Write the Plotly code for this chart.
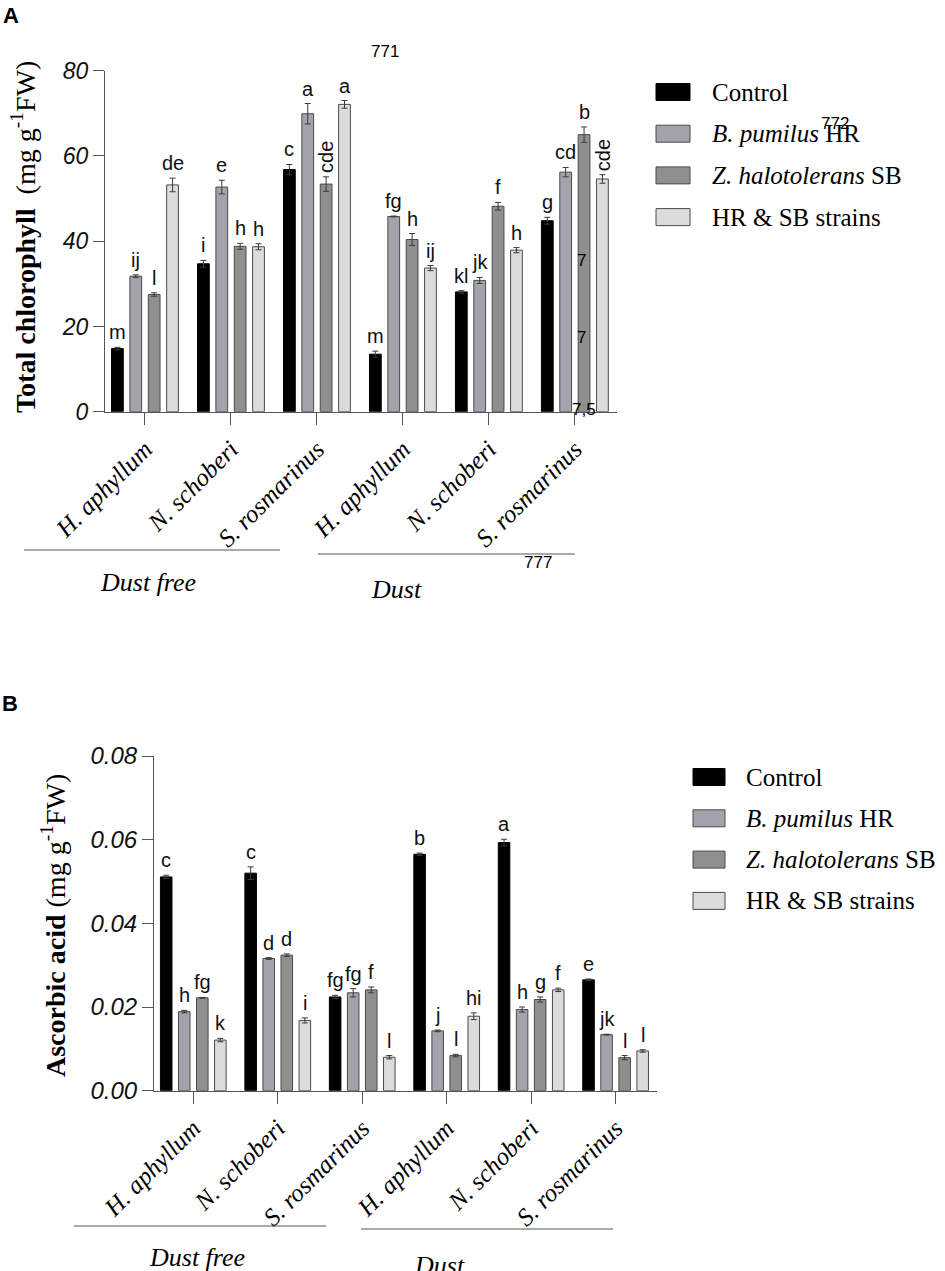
import plotly.graph_objects as go

W, H = 945, 1271

def px(x):
    return x / W

def py(y):
    return 1 - y / H

# ---------------- data ----------------
species = ["H. aphyllum", "N. schoberi", "S. rosmarinus",
           "H. aphyllum", "N. schoberi", "S. rosmarinus"]
condition_labels = ["Dust free", "Dust"]
series_names = ["Control", "<i>B. pumilus</i> HR",
                "<i>Z. halotolerans</i> SB", "HR & SB strains"]

# Panel A: total chlorophyll (mg g-1 FW)
chl_control = [14.8, 34.7, 56.8, 13.5, 28.1, 44.8]
chl_bpum = [31.8, 52.7, 69.9, 45.8, 30.8, 56.2]
chl_zhalo = [27.5, 38.8, 53.4, 40.4, 48.2, 65.0]
chl_both = [53.2, 38.7, 72.1, 33.7, 37.9, 54.6]

chl_err_control = [0.3, 0.8, 1.2, 0.7, 0.3, 0.8]
chl_err_bpum = [0.3, 1.6, 2.4, 0.1, 0.7, 1.1]
chl_err_zhalo = [0.4, 0.7, 1.7, 1.4, 0.9, 1.8]
chl_err_both = [1.6, 0.7, 0.9, 0.6, 0.6, 1.0]

chl_let_control = ["m", "i", "c", "m", "kl", "g"]
chl_let_bpum = ["ij", "e", "a", "fg", "jk", "cd"]
chl_let_zhalo = ["l", "h", "cde", "h", "f", "b"]
chl_let_both = ["de", "h", "a", "ij", "h", "cde"]

# Panel B: ascorbic acid (mg g-1 FW)
asc_control = [0.0511, 0.0520, 0.0224, 0.0565, 0.0593, 0.0265]
asc_bpum = [0.0189, 0.0316, 0.0234, 0.0143, 0.0194, 0.0134]
asc_zhalo = [0.0222, 0.0324, 0.0241, 0.0084, 0.0218, 0.0079]
asc_both = [0.0121, 0.0168, 0.0080, 0.0178, 0.0241, 0.0095]

asc_err_control = [0.0004, 0.0015, 0.0004, 0.0003, 0.0008, 0.0002]
asc_err_bpum = [0.0003, 0.0002, 0.0010, 0.0002, 0.0006, 0.0001]
asc_err_zhalo = [0.0001, 0.0003, 0.0007, 0.0003, 0.0006, 0.0005]
asc_err_both = [0.0004, 0.0006, 0.0004, 0.0008, 0.0004, 0.0003]

asc_let_control = ["c", "c", "fg", "b", "a", "e"]
asc_let_bpum = ["h", "d", "fg", "j", "h", "jk"]
asc_let_zhalo = ["fg", "d", "f", "l", "g", "l"]
asc_let_both = ["k", "i", "l", "hi", "f", "l"]

chl_ticks = [0, 20, 40, 60, 80]
asc_ticks = [0.0, 0.02, 0.04, 0.06, 0.08]

# ---------------- styles ----------------
fills = ["#000000", "#a3a3ab", "#8f8f8f", "#dcdcdc"]
edges = ["#000000", "#4a4a4a", "#4a4a4a", "#4a4a4a"]
SERIF = "Liberation Serif"
SANS = "Liberation Sans"
BARGAP = 0.145
GROUPGAP = 0.36
LETTER_FONT = dict(family=SANS, size=20, color="#111111")

fig = go.Figure()

panels = [
    dict(xa="x", ya="y",
         vals=[chl_control, chl_bpum, chl_zhalo, chl_both],
         errs=[chl_err_control, chl_err_bpum, chl_err_zhalo, chl_err_both],
         lets=[chl_let_control, chl_let_bpum, chl_let_zhalo, chl_let_both]),
    dict(xa="x2", ya="y2",
         vals=[asc_control, asc_bpum, asc_zhalo, asc_both],
         errs=[asc_err_control, asc_err_bpum, asc_err_zhalo, asc_err_both],
         lets=[asc_let_control, asc_let_bpum, asc_let_zhalo, asc_let_both]),
]

xpos = list(range(len(species)))
annotations = []
slot = (1 - BARGAP) / 4

for p in panels:
    for j, name in enumerate(series_names):
        fig.add_trace(go.Bar(
            x=xpos, y=p["vals"][j], name=name, showlegend=False,
            xaxis=p["xa"], yaxis=p["ya"],
            marker=dict(color=fills[j], line=dict(color=edges[j], width=1)),
            error_y=dict(type="data", array=p["errs"][j], visible=True,
                         color="#3a3a3a", thickness=1, width=3),
            hoverinfo="skip",
        ))
        off = -(1 - BARGAP) / 2 + slot * (j + 0.5)
        for i, lab in enumerate(p["lets"][j]):
            top = p["vals"][j][i] + p["errs"][j][i]
            # long letter groups are written vertically in the figure
            ang = -90 if len(lab) >= 3 else 0
            annotations.append(dict(
                x=xpos[i] + off, y=top, xref=p["xa"], yref=p["ya"],
                text=lab, showarrow=False, xanchor="center", yanchor="bottom",
                yshift=2, textangle=ang, font=LETTER_FONT))

def paper_text(text, x, y, size, family, **kw):
    d = dict(x=px(x), y=py(y), xref="paper", yref="paper", showarrow=False,
             text=text, xanchor="center", yanchor="middle",
             font=dict(family=family, size=size, color="#000"))
    d.update(kw)
    return d

# y-axis titles
annotations.append(paper_text("<b>Total chlorophyll</b>  (mg g<sup>-1</sup>FW)",
                              23, 237, 28, SERIF, textangle=-90))
annotations.append(paper_text("<b>Ascorbic acid</b> (mg g<sup>-1</sup>FW)",
                              53, 926, 28, SERIF, textangle=-90))

# panel letters
annotations.append(paper_text("<b>A</b>", 11, 15, 22, SANS))
annotations.append(paper_text("<b>B</b>", 10, 703, 22, SANS))

shapes = []

# condition grouping lines + labels
groups = [
    [(24, 280, 550, 148, 582), (318, 575, 554, 396, 590)],
    [(74, 326, 1226, 197, 1257), (361, 613, 1229, 439, 1265)],
]
for g in groups:
    for k, (x0, x1, ly, tx, ty) in enumerate(g):
        shapes.append(dict(type="line", xref="paper", yref="paper",
                           x0=px(x0), x1=px(x1), y0=py(ly), y1=py(ly),
                           line=dict(color="#555555", width=1)))
        annotations.append(paper_text("<i>%s</i>" % condition_labels[k],
                                      tx, ty, 26, SERIF))

# manual legends
legends = [
    dict(sx0=656, sx1=690, tx=710, y0=92, dy=41.7),
    dict(sx0=693, sx1=725, tx=744, y0=777, dy=41.3),
]
for lg in legends:
    for j, name in enumerate(series_names):
        yc = lg["y0"] + lg["dy"] * j
        shapes.append(dict(type="rect", xref="paper", yref="paper",
                           x0=px(lg["sx0"]), x1=px(lg["sx1"]),
                           y0=py(yc - 8.5), y1=py(yc + 8.5),
                           fillcolor=fills[j], line=dict(color=edges[j], width=1)))
        annotations.append(paper_text(name, lg["tx"], yc, 25, SERIF,
                                      xanchor="left"))

# stray manuscript line numbers visible in the figure
strays = [("771", 385, 52), ("772", 835, 124), ("777", 538, 563),
          ("7,5", 584, 410), ("7", 581, 260), ("7", 581, 337)]
for t, x, y in strays:
    annotations.append(paper_text(t, x, y, 17, SANS))

xcommon = dict(tickvals=xpos, ticktext=species, tickangle=-45,
               ticks="outside", ticklen=12, tickcolor="#555555",
               showline=True, linecolor="#555555", linewidth=1,
               showgrid=False, zeroline=False, automargin=False,
               range=[-0.465, 5.49],
               tickfont=dict(family=SERIF, size=25, color="#000", style="italic"))
ycommon = dict(ticks="outside", ticklen=11, tickcolor="#555555",
               showline=True, linecolor="#555555", linewidth=1,
               showgrid=False, zeroline=False, automargin=False)

fig.update_layout(
    width=W, height=H, margin=dict(l=0, r=0, t=0, b=0),
    paper_bgcolor="white", plot_bgcolor="white",
    barmode="group", bargap=BARGAP, bargroupgap=GROUPGAP,
    showlegend=False,
    xaxis=dict(domain=[px(105), px(617)], anchor="y", **xcommon),
    yaxis=dict(domain=[py(411.7), py(70.7)], anchor="x", range=[0, 80],
               tickvals=chl_ticks,
               tickfont=dict(family=SANS, size=23, color="#111", style="italic"),
               **ycommon),
    xaxis2=dict(domain=[px(154), px(657)], anchor="y2", **xcommon),
    yaxis2=dict(domain=[py(1090.7), py(756)], anchor="x2", range=[0, 0.08],
                tickvals=asc_ticks, tickformat=".2f",
                tickfont=dict(family=SANS, size=24, color="#111", style="italic"),
                **ycommon),
    annotations=annotations, shapes=shapes,
)

fig.write_html("out.html", config={"displayModeBar": False},
               post_script="document.body.style.margin='0';document.body.style.overflow='hidden';")
